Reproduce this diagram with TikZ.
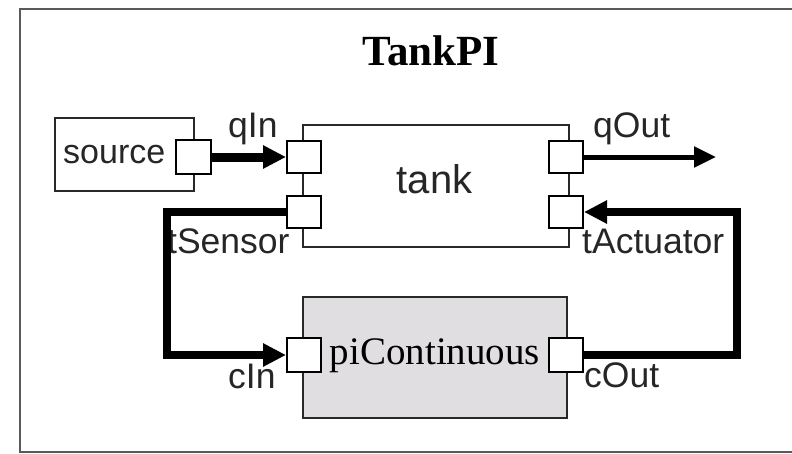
\documentclass[tikz,border=0pt]{standalone}
\usepackage{fontspec}
\setmainfont{Liberation Serif}
\newfontfamily\lsans{Liberation Sans}
\usetikzlibrary{arrows.meta}
\definecolor{framecol}{RGB}{90,90,90}
\definecolor{boxline}{RGB}{40,40,40}
\definecolor{pifill}{RGB}{225,222,226}
\begin{document}
\begin{tikzpicture}[x=1pt,y=-1pt,
  comp/.style={draw=boxline,line width=2pt,rectangle,inner sep=0pt},
  port/.style={draw=black,fill=white,line width=2pt,rectangle,inner sep=0pt,minimum width=34pt,minimum height=32pt},
  lbl/.style={font=\lsans\fontsize{35.5}{38}\selectfont,anchor=base west,inner sep=0pt,text=black!85},
  conn/.style={line width=8pt,-{Triangle[length=23pt,width=22pt]}},
  thinconn/.style={line width=5pt,-{Triangle[length=22pt,width=20pt]}}]
\useasboundingbox (0,0) rectangle (792,453);
\fill[white] (0,0) rectangle (792,453);
% outer frame (open at the right)
\draw[framecol,line width=2.5pt,line cap=butt] (792,9) -- (20,9) -- (20,452) -- (792,452);
% title
\node[font=\bfseries\fontsize{43}{46}\selectfont,anchor=base,inner sep=0pt] (title) at (431,65) {TankPI};
% source
\node[comp,minimum width=139pt,minimum height=73pt] (src) at (124.5,154.5) {};
\node[font=\lsans\fontsize{34}{36}\selectfont,anchor=base west,inner sep=0pt,text=black!85] (srctxt) at (63,163) {source};
\node[port,minimum width=35pt,minimum height=34pt] (srcout) at (193.5,157) {};
% tank
\node[comp,minimum width=266pt,minimum height=122pt] (tank) at (436,186) {};
\node[font=\lsans\fontsize{40}{42}\selectfont,anchor=base,inner sep=0pt,text=black!85] (tanktxt) at (434.5,193) {tank};
\node[port] (qin) at (304,157) {};
\node[port] (tsens) at (304,212) {};
\node[port] (qout) at (566,157) {};
\node[port] (tact) at (566,212) {};
% controller
\node[comp,fill=pifill,minimum width=264pt,minimum height=121pt] (pi) at (435,357.5) {};
\node[font=\fontsize{39}{42}\selectfont,anchor=base,inner sep=0pt] (pitxt) at (435,364) {piContinuous};
\node[port,minimum height=34pt] (cin) at (304,355) {};
\node[port,minimum height=34pt] (cout) at (566,355) {};
% labels
\node[lbl] (lqin) at (228,137) {qIn};
\node[lbl] (lqout) at (593,137) {qOut};
\node[lbl] (ltsens) at (167,253) {tSensor};
\node[lbl] (ltact) at (582,253) {tActuator};
\node[lbl] (lcin) at (228,388) {cIn};
\node[lbl] (lcout) at (584,387) {cOut};
% connectors
\coordinate (qoutend) at (716,157);
\coordinate (sl) at (167,212);
\coordinate (ar) at (737,355);
\draw[conn,line width=9pt] (srcout.east) -- (qin.west);
\draw[thinconn] (qout.east) -- (qoutend);
\draw[conn] (tsens.west) -- (sl) |- (cin.west);
\draw[conn] (cout.east) -- (ar) |- (tact.east);
% redraw ports over connector ends
\node[port,minimum width=35pt,minimum height=34pt] at (srcout) {};
\node[port] at (qin) {};
\node[port] at (tsens) {};
\node[port] at (qout) {};
\node[port] at (tact) {};
\node[port,minimum height=34pt] at (cin) {};
\node[port,minimum height=34pt] at (cout) {};
\end{tikzpicture}
\end{document}
